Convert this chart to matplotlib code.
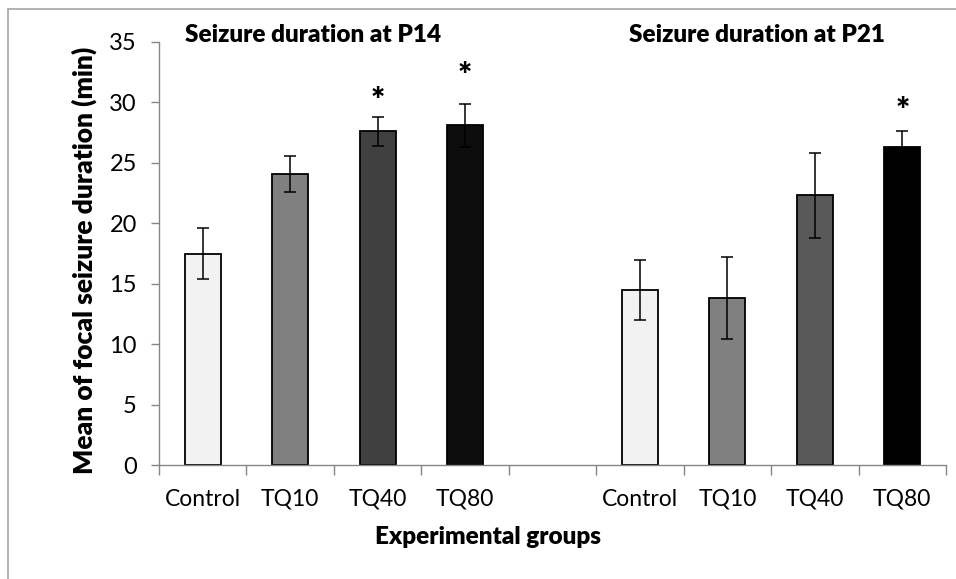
import matplotlib
matplotlib.use("Agg")
import matplotlib.pyplot as plt
from matplotlib.patches import Rectangle
import numpy as np

groups = ["Control", "TQ10", "TQ40", "TQ80"]
p14_means = [17.5, 24.1, 27.6, 28.1]
p14_err = [2.1, 1.5, 1.2, 1.8]
p21_means = [14.5, 13.8, 22.3, 26.3]
p21_err = [2.5, 3.4, 3.5, 1.3]
bar_colors_p14 = ["#f2f2f2", "#808080", "#404040", "#0d0d0d"]
bar_colors_p21 = ["#f2f2f2", "#808080", "#595959", "#000000"]
# significance stars: (position index, y value)
stars_p14 = [(2, 30.0), (3, 32.1)]
stars_p21 = [(3, 29.2)]

plt.rcParams['font.family'] = ['Lato', 'DejaVu Sans']

fig = plt.figure(figsize=(9.56, 5.79), dpi=100)
fig.patches.append(Rectangle((8/956, -0.01), 1.0, 1 - 9/579 + 0.01, transform=fig.transFigure,
                             fill=False, edgecolor="#a6a6a6", linewidth=1.2, zorder=0))
ax = fig.add_axes([159/956, 1 - 465/579, (946 - 159)/956, (465 - 42)/579])

x14 = np.arange(4)
x21 = np.arange(4) + 5
ax.bar(x14, p14_means, width=0.41, color=bar_colors_p14, edgecolor="black", linewidth=1.3, zorder=2)
ax.bar(x21, p21_means, width=0.41, color=bar_colors_p21, edgecolor="black", linewidth=1.3, zorder=2)
ax.errorbar(x14, p14_means, yerr=p14_err, fmt="none", ecolor="black", elinewidth=1.1, capsize=4.5, capthick=1.1, zorder=3)
ax.errorbar(x21, p21_means, yerr=p21_err, fmt="none", ecolor="black", elinewidth=1.1, capsize=4.5, capthick=1.1, zorder=3)

for i, y in stars_p14:
    ax.text(x14[i], y, "*", ha="center", va="center", fontsize=24, fontweight="heavy")
for i, y in stars_p21:
    ax.text(x21[i], y, "*", ha="center", va="center", fontsize=24, fontweight="heavy")

ax.set_xlim(-0.5, 8.5)
ax.set_ylim(0, 35)
ax.set_yticks(np.arange(0, 36, 5))
ax.set_xticks(list(x14) + list(x21))
ax.set_xticklabels(groups + groups, fontsize=16.5)
ax.set_xticks(np.arange(-0.5, 9, 1), minor=True)
ax.tick_params(axis="x", which="major", length=0, pad=17)
ax.tick_params(axis="x", which="minor", length=7, color="#868686", width=1)
ax.tick_params(axis="y", length=6, color="#868686", width=1, pad=10, labelsize=17)

for s in ["top", "right"]:
    ax.spines[s].set_visible(False)
for s in ["left", "bottom"]:
    ax.spines[s].set_color("#868686")
    ax.spines[s].set_linewidth(1)

fig.text(84/956, 1 - 260/579, "Mean of focal seizure duration (min)", rotation=90,
         ha="center", va="center", fontsize=19, fontweight="heavy")
fig.text(488/956, 1 - 537/579, "Experimental groups", ha="center", va="center", fontsize=17.5, fontweight="heavy")
fig.text(313/956, 1 - 35/579, "Seizure duration at P14", ha="center", va="center", fontsize=17.5, fontweight="heavy")
fig.text(757/956, 1 - 35/579, "Seizure duration at P21", ha="center", va="center", fontsize=17.5, fontweight="heavy")

fig.savefig("out.png", dpi=100)
